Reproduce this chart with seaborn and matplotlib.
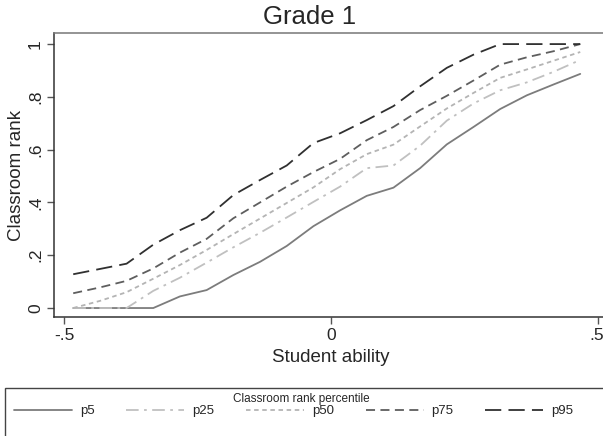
import numpy as np
import pandas as pd
import matplotlib
matplotlib.use("Agg")
import matplotlib.pyplot as plt
import matplotlib.transforms as mtransforms
from matplotlib.patches import Rectangle
import seaborn as sns

# student ability bins (x) and classroom rank percentiles (y)
ability = [-0.483, -0.433, -0.383, -0.333, -0.283, -0.233, -0.183, -0.133, -0.083, -0.033,
           0.017, 0.067, 0.117, 0.167, 0.217, 0.267, 0.317, 0.367, 0.417, 0.467]
p5 = [0, 0, 0, 0, 0.044, 0.068, 0.125, 0.175, 0.235, 0.31,
      0.37, 0.425, 0.456, 0.53, 0.62, 0.686, 0.754, 0.806, 0.847, 0.887]
p25 = [0, 0, 0, 0.065, 0.115, 0.172, 0.23, 0.285, 0.343, 0.402,
       0.46, 0.53, 0.54, 0.615, 0.71, 0.775, 0.825, 0.855, 0.895, 0.94]
p50 = [0, 0.027, 0.06, 0.111, 0.163, 0.22, 0.28, 0.339, 0.398, 0.457,
       0.526, 0.583, 0.619, 0.688, 0.756, 0.815, 0.872, 0.904, 0.937, 0.97]
p75 = [0.056, 0.078, 0.103, 0.15, 0.21, 0.262, 0.34, 0.40, 0.46, 0.515,
       0.565, 0.636, 0.686, 0.75, 0.804, 0.862, 0.922, 0.95, 0.973, 1.0]
p95 = [0.128, 0.148, 0.168, 0.24, 0.295, 0.342, 0.428, 0.485, 0.54, 0.625,
       0.662, 0.712, 0.765, 0.84, 0.91, 0.96, 1.0, 1.0, 1.0, 1.0]

series = {"p5": p5, "p25": p25, "p50": p50, "p75": p75, "p95": p95}
xticks = [-0.5, 0, 0.5]
xtick_labels = ["-.5", "0", ".5"]
yticks = [0, 0.2, 0.4, 0.6, 0.8, 1.0]
ytick_labels = ["0", ".2", ".4", ".6", ".8", "1"]

df = pd.DataFrame({
    "ability": ability * len(series),
    "rank": [v for vals in series.values() for v in vals],
    "pct": [k for k in series for _ in ability],
})

colors = {"p5": "#7c7c7c", "p25": "#c0c0c0", "p50": "#b4b4b4", "p75": "#5e5e5e", "p95": "#303030"}
dash_map = {"p5": "", "p25": (7, 3, 1.5, 3), "p50": (2.5, 2), "p75": (5, 3), "p95": (9, 4)}

sns.set_style("white")
plt.rcParams["font.family"] = ["Liberation Sans", "DejaVu Sans"]

fig = plt.figure(figsize=(6.03, 4.36), dpi=100)
W, H = 603, 436
ax = fig.add_axes([54 / W, 1 - 317 / H, (608 - 54) / W, (317 - 33) / H])

sns.lineplot(data=df, x="ability", y="rank", hue="pct", style="pct",
             palette=colors, dashes=dash_map, linewidth=1.3, errorbar=None,
             sort=False, ax=ax)
handles, labels = ax.get_legend_handles_labels()
ax.get_legend().remove()

ax.set_xlim(-0.519, 0.519)
ax.set_ylim(-0.034, 1.042)
ax.set_xticks(xticks)
ax.set_xticklabels(xtick_labels, fontsize=12.5)
ax.set_yticks(yticks)
ax.set_yticklabels(ytick_labels, fontsize=12.5, rotation=90, va="center")
ax.tick_params(axis="both", direction="out", length=5, width=1, color="#555555",
               bottom=True, left=True, pad=3)
# keep the ".5" label inside the picture
last = ax.get_xticklabels()[-1]
last.set_ha("right")
last.set_transform(last.get_transform() +
                   mtransforms.ScaledTranslation(6 / 100, 0, fig.dpi_scale_trans))
for s in ax.spines.values():
    s.set_color("#333333")
    s.set_linewidth(1.1)
ax.spines["top"].set_color("#777777")

ax.set_xlabel("Student ability", fontsize=13.5, labelpad=4)
ax.set_ylabel("Classroom rank", fontsize=13.5, labelpad=2)
fig.text(310 / W, 1 - 17 / H, "Grade 1", ha="center", va="center", fontsize=18.5)

# legend frame and title
fig.patches.append(Rectangle((5 / W, -0.1), 1.1, 1 - 388 / H + 0.1,
                             transform=fig.transFigure, fill=False,
                             edgecolor="#444444", linewidth=1.0))
fig.text(301 / W, 1 - 399 / H, "Classroom rank percentile", ha="center", va="center",
         fontsize=8.5)
leg = fig.legend(handles, labels, loc="center left", bbox_to_anchor=(14 / W, 1 - 411 / H),
                 ncol=5, frameon=False, fontsize=9.5, handlelength=4.4,
                 handletextpad=0.6, columnspacing=2.4, borderpad=0, borderaxespad=0)

fig.savefig("out.png", dpi=100)
